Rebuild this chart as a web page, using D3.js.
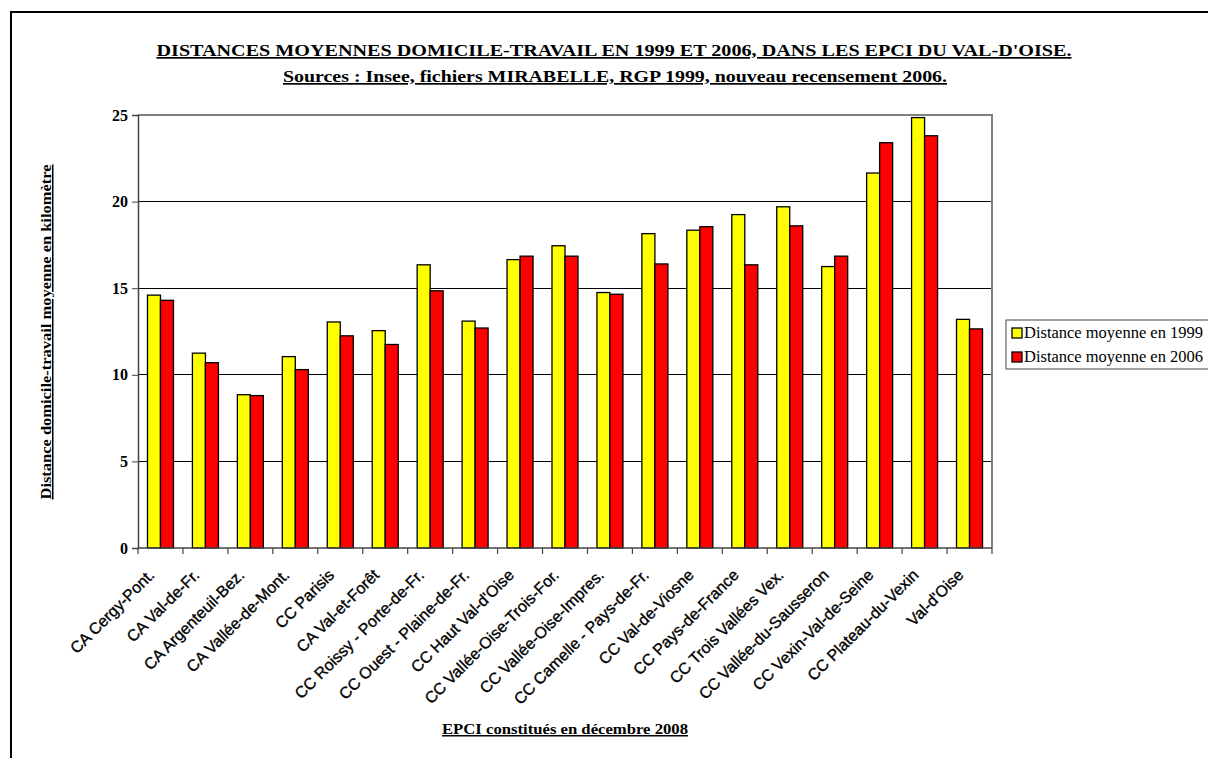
<!DOCTYPE html>
<html><head><meta charset="utf-8">
<script src="https://cdn.jsdelivr.net/npm/d3@7"></script>
<style>body{margin:0;background:#fff}svg{display:block}</style>
</head><body>
<script>
const categories = ["CA Cergy-Pont.","CA Val-de-Fr.","CA Argenteuil-Bez.","CA Vallée-de-Mont.","CC Parisis","CA Val-et-Forêt","CC Roissy - Porte-de-Fr.","CC Ouest - Plaine-de-Fr.","CC Haut Val-d'Oise","CC Vallée-Oise-Trois-For.","CC Vallée-Oise-Impres.","CC Camelle - Pays-de-Fr.","CC Val-de-Viosne","CC Pays-de-France","CC Trois Vallées Vex.","CC Vallée-du-Sausseron","CC Vexin-Val-de-Seine","CC Plateau-du-Vexin","Val-d'Oise"];
const values1999 = [14.6,11.25,8.85,11.05,13.05,12.55,16.35,13.1,16.65,17.45,14.75,18.15,18.35,19.25,19.7,16.25,21.65,24.85,13.2];
const values2006 = [14.3,10.7,8.8,10.3,12.25,11.75,14.85,12.7,16.85,16.85,14.65,16.4,18.55,16.35,18.6,16.85,23.4,23.8,12.65];
const seriesNames = ["Distance moyenne en 1999","Distance moyenne en 2006"];
const seriesColors = ["#ffff00","#ff0000"];
const yTicks = [0,5,10,15,20,25];

const W = 1208, H = 758;
const svg = d3.select("body").append("svg").attr("width", W).attr("height", H);
const serif = "'Liberation Serif','Times New Roman',serif";
const sans = "'Liberation Sans',Arial,sans-serif";

// outer frame
svg.append("rect").attr("x",11).attr("y",12).attr("width",W+20).attr("height",H+20)
  .attr("fill","none").attr("stroke","#000").attr("stroke-width",2);

const L = 138, R = 992, T = 115, B = 548;
const x = d3.scaleBand().domain(categories).range([L, R]).padding(0);
const bw = x.bandwidth();
const xs = d3.scaleBand().domain([0,1]).range([(bw-26)/2, (bw+26)/2]).padding(0);
const y = d3.scaleLinear().domain([0,25]).range([B, T]);

// gridlines
svg.append("g").selectAll("line").data(yTicks.filter(t=>t>0 && t<25)).join("line")
  .attr("x1",L).attr("x2",R).attr("y1",d=>y(d)).attr("y2",d=>y(d))
  .attr("stroke","#000").attr("stroke-width",1).attr("shape-rendering","crispEdges");
// plot border (top/right)
svg.append("path").attr("d",`M${L},${T}H${R}V${B}`).attr("fill","none")
  .attr("stroke","#808080").attr("stroke-width",1.5).attr("shape-rendering","crispEdges");

// bars
const data = [];
categories.forEach((c,i)=>{ data.push({c,s:0,v:values1999[i]}); data.push({c,s:1,v:values2006[i]}); });
svg.append("g").selectAll("rect").data(data).join("rect")
  .attr("x",d=>x(d.c)+xs(d.s)).attr("width",xs.bandwidth())
  .attr("y",d=>y(d.v)).attr("height",d=>B-y(d.v))
  .attr("fill",d=>seriesColors[d.s]).attr("stroke","#000").attr("stroke-width",1.3);

// y axis
const yAxis = d3.axisLeft(y).tickValues(yTicks).tickSize(6).tickPadding(4).tickFormat(d3.format("d"));
const ga = svg.append("g").attr("transform",`translate(${L},0)`).call(yAxis);
ga.select(".domain").attr("stroke","#444").attr("stroke-width",1.5);
ga.selectAll(".tick line").attr("stroke","#444");
ga.selectAll("text").attr("font-family",serif).attr("font-weight","bold").attr("font-size",16).attr("fill","#000");

// x axis ticks at boundaries
const gx = svg.append("g").attr("transform",`translate(0,${B})`);
gx.append("line").attr("x1",L).attr("x2",R).attr("y1",0).attr("y2",0).attr("stroke","#444").attr("stroke-width",1.5);
gx.selectAll("line.tk").data(categories.concat(["_end"])).join("line").attr("class","tk")
  .attr("x1",(d,i)=> i<categories.length ? x(d) : R).attr("x2",(d,i)=> i<categories.length ? x(d) : R)
  .attr("y1",0).attr("y2",6).attr("stroke","#444").attr("stroke-width",1.2);
gx.selectAll("text").data(categories).join("text")
  .attr("transform",d=>`translate(${x(d)+bw/2-5},${28}) rotate(-45)`)
  .attr("text-anchor","end").attr("font-family",sans).attr("font-size",16).attr("fill","#000")
  .attr("stroke","#000").attr("stroke-width",0.35)
  .text(d=>d);

// titles
svg.append("text").attr("x",614).attr("y",56).attr("text-anchor","middle")
  .attr("font-family",serif).attr("font-weight","bold").attr("font-size",17)
  .attr("text-decoration","underline").attr("textLength",915).attr("lengthAdjust","spacingAndGlyphs")
  .text("DISTANCES MOYENNES DOMICILE-TRAVAIL EN 1999 ET 2006, DANS LES EPCI DU VAL-D'OISE.");
svg.append("text").attr("x",615).attr("y",82).attr("text-anchor","middle")
  .attr("font-family",serif).attr("font-weight","bold").attr("font-size",17)
  .attr("text-decoration","underline").attr("textLength",664).attr("lengthAdjust","spacingAndGlyphs")
  .text("Sources : Insee, fichiers MIRABELLE, RGP 1999, nouveau recensement 2006.");

svg.append("text").attr("transform","translate(51,332) rotate(-90)").attr("text-anchor","middle")
  .attr("font-family",serif).attr("font-weight","bold").attr("font-size",15)
  .attr("text-decoration","underline").attr("textLength",335).attr("lengthAdjust","spacingAndGlyphs")
  .text("Distance domicile-travail moyenne en kilomètre");

svg.append("text").attr("x",565).attr("y",734).attr("text-anchor","middle")
  .attr("font-family",serif).attr("font-weight","bold").attr("font-size",15)
  .attr("text-decoration","underline").attr("textLength",246).attr("lengthAdjust","spacingAndGlyphs")
  .text("EPCI constitués en décembre 2008");

// legend
const lg = svg.append("g");
lg.append("rect").attr("x",1006).attr("y",320).attr("width",220).attr("height",49)
  .attr("fill","#fff").attr("stroke","#444").attr("stroke-width",1);
seriesNames.forEach((n,i)=>{
  lg.append("rect").attr("x",1012).attr("y",328+i*24).attr("width",10).attr("height",10)
    .attr("fill",seriesColors[i]).attr("stroke","#000").attr("stroke-width",1.3);
  lg.append("text").attr("x",1024).attr("y",338+i*24).attr("font-family",serif).attr("font-size",16)
    .attr("textLength",179).attr("lengthAdjust","spacingAndGlyphs").attr("fill","#000").text(n);
});
</script>
</body></html>
